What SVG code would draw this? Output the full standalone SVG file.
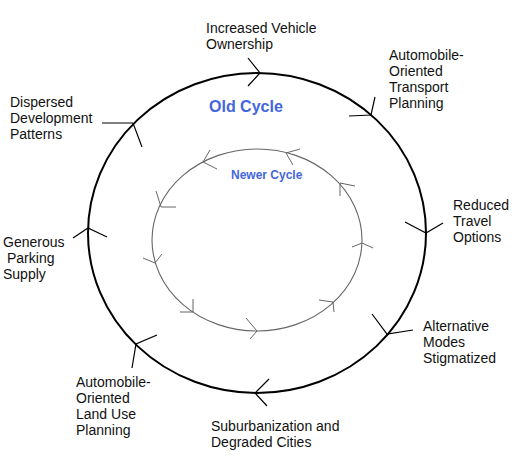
<svg xmlns="http://www.w3.org/2000/svg" width="532" height="458" viewBox="0 0 532 458">
<style>
.lbl{font-family:"Liberation Sans",Arial,sans-serif;font-size:14px;fill:#111}
.ttl{font-family:"Liberation Sans",Arial,sans-serif;font-weight:bold;fill:#4466dd}
.outer{fill:none;stroke:#000;stroke-width:2}
.inner{fill:none;stroke:#666;stroke-width:1.1}
.ah{fill:none;stroke:#000;stroke-width:1.2}
.ahi{fill:none;stroke:#666;stroke-width:1}
</style>
<rect width="532" height="458" fill="#fff"/>
<g id="connectors">
<ellipse id="old-cycle-ring" class="outer" cx="257" cy="233" rx="169" ry="160"/>
<ellipse id="newer-cycle-ring" class="inner" cx="257" cy="240" rx="105" ry="91"/>
<g id="outer-arrows">
<polyline class="ah" points="248,58 260,73 248,86"/>
<polyline class="ah" points="349,116 371,115 375,97"/>
<polyline class="ah" points="405,222 426,233 443,223"/>
<polyline class="ah" points="372,314 387,334 413,330"/>
<polyline class="ah" points="269,379 255,393 267,406"/>
<polyline class="ah" points="157,335 136,344 132,368"/>
<polyline class="ah" points="73,238 88,228 107,237"/>
<polyline class="ah" points="102,123 133,123 142,147"/>
</g>
<g id="inner-arrows">
<polyline class="ahi" points="300,149 286,153 293,165"/>
<polyline class="ahi" points="210,150 203,162 217,169"/>
<polyline class="ahi" points="156,191 161,207 176,207"/>
<polyline class="ahi" points="143,258 155,263 162,254"/>
<polyline class="ahi" points="180,312 193,312 193,299"/>
<polyline class="ahi" points="246,318 257,331 250,339"/>
<polyline class="ahi" points="319,300 333,302 334,312"/>
<polyline class="ahi" points="352,247 362,243 373,248"/>
<polyline class="ahi" points="355,186 340,183 340,196"/>
</g>
</g>
<g id="title-old"><text class="ttl" x="209" y="112" font-size="16">Old Cycle</text></g>
<g id="title-newer"><text class="ttl" x="231" y="179" font-size="12">Newer Cycle</text></g>
<g id="node-vehicle-ownership"><text class="lbl" x="206" y="33">Increased Vehicle<tspan x="206" y="49">Ownership</tspan></text></g>
<g id="node-transport-planning"><text class="lbl" x="389" y="60">Automobile-<tspan x="389" y="76">Oriented</tspan><tspan x="389" y="92">Transport</tspan><tspan x="389" y="108">Planning</tspan></text></g>
<g id="node-reduced-travel"><text class="lbl" x="453" y="210">Reduced<tspan x="453" y="226">Travel</tspan><tspan x="453" y="242">Options</tspan></text></g>
<g id="node-alternative-modes"><text class="lbl" x="423" y="331">Alternative<tspan x="423" y="347">Modes</tspan><tspan x="423" y="363">Stigmatized</tspan></text></g>
<g id="node-suburbanization"><text class="lbl" x="211" y="431">Suburbanization and<tspan x="211" y="447">Degraded Cities</tspan></text></g>
<g id="node-land-use"><text class="lbl" x="76" y="387">Automobile-<tspan x="76" y="403">Oriented</tspan><tspan x="76" y="419">Land Use</tspan><tspan x="76" y="435">Planning</tspan></text></g>
<g id="node-parking"><text class="lbl" x="3" y="247">Generous<tspan x="7" y="263">Parking</tspan><tspan x="3" y="279">Supply</tspan></text></g>
<g id="node-dispersed"><text class="lbl" x="10" y="107">Dispersed<tspan x="10" y="123">Development</tspan><tspan x="10" y="139">Patterns</tspan></text></g>
</svg>
